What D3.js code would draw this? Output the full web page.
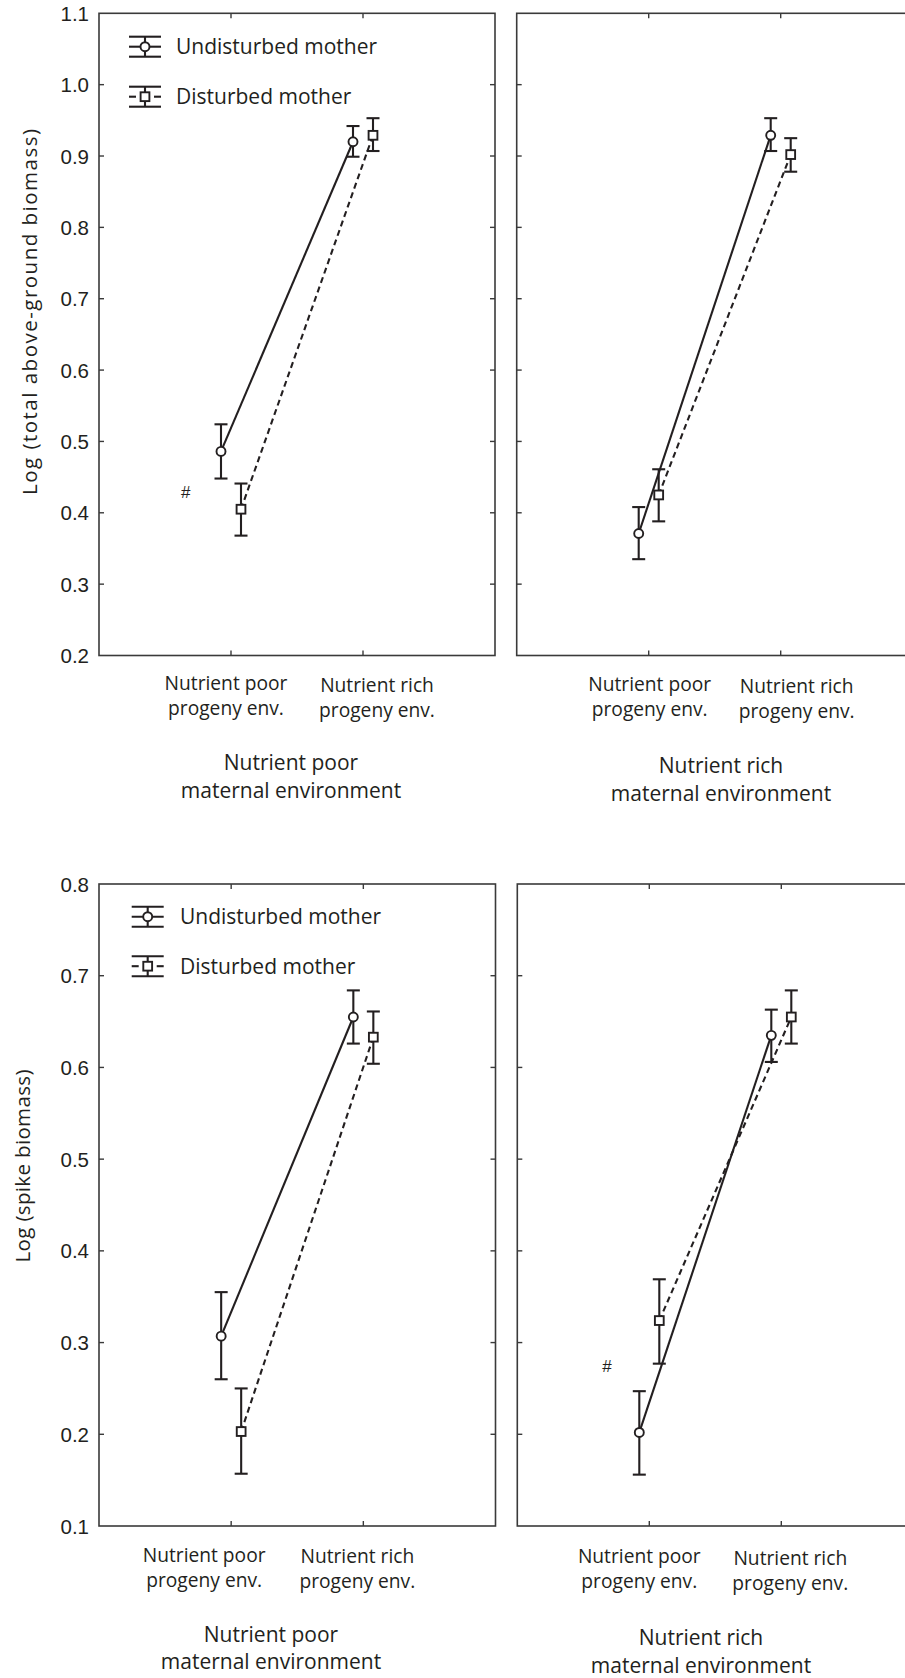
<!DOCTYPE html>
<html>
<head>
<meta charset="utf-8">
<script src="https://cdn.jsdelivr.net/npm/d3@7"></script>
<style>
  html, body { margin: 0; padding: 0; background: #fff; }
  svg { display: block; }
</style>
</head>
<body>
<svg id="chart" width="905" height="1678"></svg>
<script>
// ---------------- DATA ----------------
const progenyLabels = [["Nutrient poor", "progeny env."], ["Nutrient rich", "progeny env."]];
const maternalLabels = [["Nutrient poor", "maternal environment"], ["Nutrient rich", "maternal environment"]];
const seriesNames = ["Undisturbed mother", "Disturbed mother"];
const yTitles = ["Log (total above-ground biomass)", "Log (spike biomass)"];
const totalTicks = [0.2, 0.3, 0.4, 0.5, 0.6, 0.7, 0.8, 0.9, 1.0, 1.1];
const spikeTicks = [0.1, 0.2, 0.3, 0.4, 0.5, 0.6, 0.7, 0.8];
const progenyIndex = [1, 2];

// Total above-ground biomass, nutrient poor maternal env. [poor progeny, rich progeny]
const totalPoorUndMean = [0.486, 0.920];
const totalPoorUndLo   = [0.448, 0.899];
const totalPoorUndHi   = [0.524, 0.942];
const totalPoorDisMean = [0.405, 0.929];
const totalPoorDisLo   = [0.368, 0.907];
const totalPoorDisHi   = [0.441, 0.953];
// Total above-ground biomass, nutrient rich maternal env.
const totalRichUndMean = [0.371, 0.929];
const totalRichUndLo   = [0.335, 0.907];
const totalRichUndHi   = [0.408, 0.953];
const totalRichDisMean = [0.425, 0.902];
const totalRichDisLo   = [0.388, 0.878];
const totalRichDisHi   = [0.461, 0.925];
// Spike biomass, nutrient poor maternal env.
const spikePoorUndMean = [0.307, 0.655];
const spikePoorUndLo   = [0.260, 0.626];
const spikePoorUndHi   = [0.355, 0.684];
const spikePoorDisMean = [0.203, 0.633];
const spikePoorDisLo   = [0.157, 0.604];
const spikePoorDisHi   = [0.250, 0.661];
// Spike biomass, nutrient rich maternal env.
const spikeRichUndMean = [0.202, 0.635];
const spikeRichUndLo   = [0.156, 0.606];
const spikeRichUndHi   = [0.247, 0.663];
const spikeRichDisMean = [0.324, 0.655];
const spikeRichDisLo   = [0.277, 0.626];
const spikeRichDisHi   = [0.369, 0.684];

// Significance marks "#" (x in category units, y in data units)
const hashTopLeft = [0.657, 0.428];
const hashBottomRight = [0.68, 0.274];

// ---------------- LAYOUT ----------------
const ink = "#231f20";
const axisInk = "#3a3a3a";
const sansFont = "'Open Sans', 'Noto Sans', sans-serif";
const tickFont = "'Liberation Sans', Arial, sans-serif";
const svg = d3.select("#chart");

const panels = [
  { x0: 99, x1: 495, y0: 13.3, y1: 655.5, domain: [0.2, 1.1], ticks: totalTicks, yLabels: true,
    und: [totalPoorUndMean, totalPoorUndLo, totalPoorUndHi], dis: [totalPoorDisMean, totalPoorDisLo, totalPoorDisHi],
    legend: { x: 129, y: 46.7, gap: 50, textX: 176 }, hash: hashTopLeft,
    prog: { dx: [-5, 14], base: [34.5, 36.2] }, mat: 0, matPos: { cx: 291, b: 114.5 },
    yTitle: { text: yTitles[0], cx: 29, cy: 312, len: 366 } },
  { x0: 516.7, x1: 912.7, y0: 13.3, y1: 655.5, domain: [0.2, 1.1], ticks: totalTicks, yLabels: false,
    und: [totalRichUndMean, totalRichUndLo, totalRichUndHi], dis: [totalRichDisMean, totalRichDisLo, totalRichDisHi],
    prog: { dx: [1, 16], base: [35.5, 37.5] }, mat: 1, matPos: { cx: 721, b: 117.5 } },
  { x0: 99, x1: 495.5, y0: 884, y1: 1526, domain: [0.1, 0.8], ticks: spikeTicks, yLabels: true,
    und: [spikePoorUndMean, spikePoorUndLo, spikePoorUndHi], dis: [spikePoorDisMean, spikePoorDisLo, spikePoorDisHi],
    legend: { x: 131.7, y: 916.7, gap: 49.5, textX: 180 },
    prog: { dx: [-27, -6], base: [35.7, 37.3] }, mat: 0, matPos: { cx: 271, b: 115.7 },
    yTitle: { text: yTitles[1], cx: 22, cy: 1166, len: 193 } },
  { x0: 517.3, x1: 913.3, y0: 884, y1: 1526, domain: [0.1, 0.8], ticks: spikeTicks, yLabels: false,
    und: [spikeRichUndMean, spikeRichUndLo, spikeRichUndHi], dis: [spikeRichDisMean, spikeRichDisLo, spikeRichDisHi],
    hash: hashBottomRight,
    prog: { dx: [-10, 9], base: [37.3, 39] }, mat: 1, matPos: { cx: 701, b: 119 } }
];

const seriesOffset = [-10, 10];   // px shift of undisturbed / disturbed
const dashPattern = "6,4";
const lw = 2.1;

panels.forEach(p => {
  const x = d3.scaleLinear().domain([0, 3]).range([p.x0, p.x1]);
  const y = d3.scaleLinear().domain(p.domain).range([p.y1, p.y0]);
  const g = svg.append("g");

  // frame
  g.append("rect").attr("x", p.x0).attr("y", p.y0)
    .attr("width", p.x1 - p.x0).attr("height", p.y1 - p.y0)
    .attr("fill", "none").attr("stroke", axisInk).attr("stroke-width", 1.6);

  // y ticks (inside, both sides)
  const inner = p.ticks.slice(1, -1);
  g.selectAll(".ytl").data(inner).join("line")
    .attr("x1", p.x0).attr("x2", p.x0 + 5).attr("y1", d => y(d)).attr("y2", d => y(d))
    .attr("stroke", axisInk).attr("stroke-width", 1.4);
  g.selectAll(".ytr").data(inner).join("line")
    .attr("x1", p.x1).attr("x2", p.x1 - 5).attr("y1", d => y(d)).attr("y2", d => y(d))
    .attr("stroke", axisInk).attr("stroke-width", 1.4);
  // x ticks top & bottom
  g.selectAll(".xtb").data(progenyIndex).join("line")
    .attr("x1", d => x(d)).attr("x2", d => x(d)).attr("y1", p.y1).attr("y2", p.y1 - 5)
    .attr("stroke", axisInk).attr("stroke-width", 1.4);
  g.selectAll(".xtt").data(progenyIndex).join("line")
    .attr("x1", d => x(d)).attr("x2", d => x(d)).attr("y1", p.y0).attr("y2", p.y0 + 5)
    .attr("stroke", axisInk).attr("stroke-width", 1.4);

  // y tick labels
  if (p.yLabels) {
    g.selectAll(".ylab").data(p.ticks).join("text")
      .attr("x", p.x0 - 10).attr("y", d => y(d) + 7.5)
      .attr("text-anchor", "end")
      .attr("font-family", tickFont).attr("font-size", 20.5)
      .attr("fill", ink)
      .text(d => d.toFixed(1));
  }

  // progeny labels
  progenyLabels.forEach((lines, i) => {
    const t = g.append("text")
      .attr("text-anchor", "middle")
      .attr("font-family", sansFont).attr("font-size", 19.2)
      .attr("fill", ink);
    lines.forEach((ln, j) => {
      t.append("tspan").attr("x", x(progenyIndex[i]) + p.prog.dx[i])
        .attr("y", p.y1 + p.prog.base[i] + j * 25).text(ln);
    });
  });

  // maternal title
  const mt = g.append("text").attr("text-anchor", "middle")
    .attr("font-family", sansFont).attr("font-size", 21).attr("fill", ink);
  maternalLabels[p.mat].forEach((ln, j) => {
    mt.append("tspan").attr("x", p.matPos.cx).attr("y", p.y1 + p.matPos.b + j * 27.5).text(ln);
  });

  // y title
  if (p.yTitle) {
    g.append("text")
      .attr("transform", `translate(${p.yTitle.cx},${p.yTitle.cy}) rotate(-90)`)
      .attr("text-anchor", "middle").attr("dominant-baseline", "central")
      .attr("font-family", sansFont).attr("font-size", 20.5).attr("fill", ink)
      .attr("textLength", p.yTitle.len).attr("lengthAdjust", "spacing")
      .text(p.yTitle.text);
  }

  // series
  const series = [
    { d: p.und, off: seriesOffset[0], dash: null, shape: "circle" },
    { d: p.dis, off: seriesOffset[1], dash: dashPattern, shape: "square" }
  ];
  const px = (s, i) => x(progenyIndex[i]) + s.off;

  // connecting lines
  series.forEach(s => {
    const pts = s.d[0].map((v, i) => [px(s, i), y(v)]);
    g.append("path").attr("d", d3.line()(pts))
      .attr("fill", "none").attr("stroke", ink).attr("stroke-width", lw)
      .attr("stroke-dasharray", s.dash);
  });
  // error bars
  series.forEach(s => {
    s.d[0].forEach((v, i) => {
      const cx = px(s, i);
      g.append("line").attr("x1", cx).attr("x2", cx)
        .attr("y1", y(s.d[1][i])).attr("y2", y(s.d[2][i]))
        .attr("stroke", ink).attr("stroke-width", lw);
      [s.d[1][i], s.d[2][i]].forEach(e => {
        g.append("line").attr("x1", cx - 6.5).attr("x2", cx + 6.5)
          .attr("y1", y(e)).attr("y2", y(e))
          .attr("stroke", ink).attr("stroke-width", lw);
      });
    });
  });
  // markers
  series.forEach(s => {
    s.d[0].forEach((v, i) => {
      const cx = px(s, i), cy = y(v);
      if (s.shape === "circle") {
        g.append("circle").attr("cx", cx).attr("cy", cy).attr("r", 4.5)
          .attr("fill", "#fff").attr("stroke", ink).attr("stroke-width", 1.9);
      } else {
        g.append("rect").attr("x", cx - 4.4).attr("y", cy - 4.4)
          .attr("width", 8.8).attr("height", 8.8)
          .attr("fill", "#fff").attr("stroke", ink).attr("stroke-width", 1.9);
      }
    });
  });

  // hash
  if (p.hash) {
    g.append("text").attr("x", x(p.hash[0])).attr("y", y(p.hash[1]))
      .attr("text-anchor", "middle").attr("dominant-baseline", "central")
      .attr("font-family", tickFont).attr("font-size", 17).attr("fill", ink)
      .text("#");
  }

  // legend
  if (p.legend) {
    const L = p.legend;
    seriesNames.forEach((name, k) => {
      const cy = L.y + k * L.gap, cx = L.x + 16;
      const lg = g.append("g");
      [cy - 10, cy + 10].forEach(yy => {
        lg.append("line").attr("x1", L.x).attr("x2", L.x + 32).attr("y1", yy).attr("y2", yy)
          .attr("stroke", ink).attr("stroke-width", lw);
      });
      lg.append("line").attr("x1", cx).attr("x2", cx).attr("y1", cy - 10).attr("y2", cy + 10)
        .attr("stroke", ink).attr("stroke-width", lw);
      if (k === 0) {
        lg.append("line").attr("x1", L.x).attr("x2", L.x + 32).attr("y1", cy).attr("y2", cy)
          .attr("stroke", ink).attr("stroke-width", lw);
        lg.append("circle").attr("cx", cx).attr("cy", cy).attr("r", 4.5)
          .attr("fill", "#fff").attr("stroke", ink).attr("stroke-width", 1.9);
      } else {
        [[L.x, L.x + 7], [L.x + 25, L.x + 32]].forEach(seg => {
          lg.append("line").attr("x1", seg[0]).attr("x2", seg[1]).attr("y1", cy).attr("y2", cy)
            .attr("stroke", ink).attr("stroke-width", lw);
        });
        lg.append("rect").attr("x", cx - 4.4).attr("y", cy - 4.4).attr("width", 8.8).attr("height", 8.8)
          .attr("fill", "#fff").attr("stroke", ink).attr("stroke-width", 1.9);
      }
      lg.append("text").attr("x", L.textX).attr("y", cy + 7.5)
        .attr("font-family", sansFont).attr("font-size", 21).attr("fill", ink)
        .text(name);
    });
  }
});
</script>
</body>
</html>
